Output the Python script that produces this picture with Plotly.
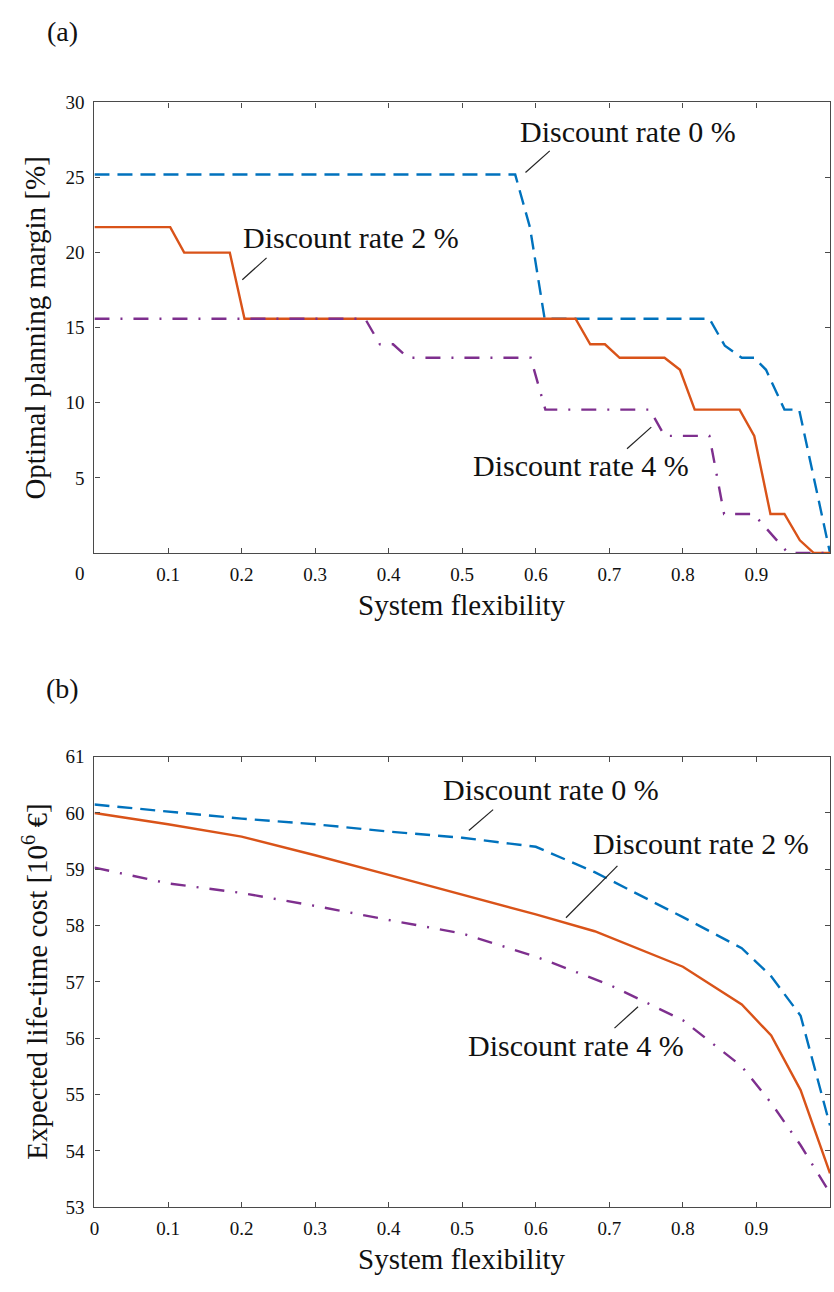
import plotly.graph_objects as go

# ---------------- data: panel (a) optimal planning margin ----------------
A_X_0 = [0, 0.572, 0.592, 0.612, 0.836, 0.857, 0.88, 0.897, 0.913, 0.938, 0.958, 1.0]
A_Y_0 = [25.2, 25.2, 21.7, 15.6, 15.6, 13.8, 13.0, 13.0, 12.2, 9.55, 9.55, 0]

A_X_2 = [0, 0.103, 0.122, 0.184, 0.204, 0.654, 0.674, 0.694, 0.714, 0.775, 0.796,
         0.816, 0.877, 0.897, 0.919, 0.938, 0.959, 0.978, 1.0]
A_Y_2 = [21.7, 21.7, 20.0, 20.0, 15.6, 15.6, 13.9, 13.9, 13.0, 13.0, 12.2,
         9.55, 9.55, 7.8, 2.6, 2.6, 0.85, 0, 0]

A_X_4 = [0, 0.368, 0.388, 0.406, 0.426, 0.593, 0.613, 0.755, 0.775, 0.836, 0.856,
         0.896, 0.943, 1.0]
A_Y_4 = [15.6, 15.6, 13.9, 13.9, 13.0, 13.0, 9.55, 9.55, 7.8, 7.8, 2.6,
         2.6, 0, 0]

# ---------------- data: panel (b) expected life-time cost ----------------
B_X_0 = [0, 0.1, 0.2, 0.3, 0.4, 0.5, 0.6, 0.68, 0.8, 0.88, 0.92, 0.96, 1.0]
B_Y_0 = [60.15, 60.02, 59.9, 59.8, 59.67, 59.56, 59.4, 58.95, 58.15, 57.6, 57.1, 56.4, 54.45]

B_X_2 = [0, 0.1, 0.2, 0.3, 0.4, 0.5, 0.6, 0.68, 0.8, 0.88, 0.92, 0.96, 1.0]
B_Y_2 = [60.0, 59.8, 59.58, 59.25, 58.9, 58.55, 58.2, 57.9, 57.27, 56.6, 56.05, 55.08, 53.6]

B_X_4 = [0, 0.1, 0.2, 0.3, 0.4, 0.5, 0.6, 0.7, 0.8, 0.88, 0.92, 0.96, 1.0]
B_Y_4 = [59.03, 58.75, 58.58, 58.35, 58.1, 57.86, 57.45, 56.95, 56.32, 55.5, 54.85, 54.1, 53.25]

SERIES_NAMES = ["Discount rate 0 %", "Discount rate 2 %", "Discount rate 4 %"]

X_TICKS = [0, 0.1, 0.2, 0.3, 0.4, 0.5, 0.6, 0.7, 0.8, 0.9, 1]
X_TICK_LABELS = ["0", "0.1", "0.2", "0.3", "0.4", "0.5", "0.6", "0.7", "0.8", "0.9", "1"]
A_Y_TICKS = [5, 10, 15, 20, 25, 30]
B_Y_TICKS = [53, 54, 55, 56, 57, 58, 59, 60, 61]

# label positions (data coords) and leader lines
A_LABEL_POS = [(0.726, 28.1), (0.349, 21.0), (0.662, 5.85)]
A_LEADERS = [((0.619, 26.78), (0.586, 25.34)),
             ((0.234, 19.65), (0.201, 18.2)),
             ((0.757, 8.38), (0.724, 6.94))]
B_LABEL_POS = [(0.621, 60.42), (0.825, 59.45), (0.655, 55.88)]
B_LEADERS = [((0.542, 60.06), (0.509, 59.69)),
             ((0.711, 59.06), (0.641, 58.14)),
             ((0.739, 56.56), (0.707, 56.18))]

# ---------------- styling ----------------
W, H = 834, 1292
FONT = "Liberation Serif, Times New Roman, serif"
COLORS = ["#0072BD", "#D95319", "#7E2F8E"]
DASHES = ["15px,8px", "solid", "15px,11px,2px,11px"]
AXCOL = "#4a4a4a"
TXT = "#111111"

x_dom = [90 / W, 830 / W]
ya_dom = [1 - 552 / H, 1 - 94 / H]
yb_dom = [1 - 1217 / H, 1 - 759 / H]

fig = go.Figure()

panel_a = [(A_X_0, A_Y_0), (A_X_2, A_Y_2), (A_X_4, A_Y_4)]
panel_b = [(B_X_0, B_Y_0), (B_X_2, B_Y_2), (B_X_4, B_Y_4)]

for i, (xs, ys) in enumerate(panel_a):
    fig.add_trace(go.Scatter(x=xs, y=ys, mode="lines", name=SERIES_NAMES[i],
                             line=dict(color=COLORS[i], width=2.4, dash=DASHES[i]),
                             xaxis="x", yaxis="y", showlegend=False))
for i, (xs, ys) in enumerate(panel_b):
    fig.add_trace(go.Scatter(x=xs, y=ys, mode="lines", name=SERIES_NAMES[i],
                             line=dict(color=COLORS[i], width=2.4, dash=DASHES[i]),
                             xaxis="x2", yaxis="y2", showlegend=False))

axis_common = dict(showgrid=False, zeroline=False, showline=True, linecolor=AXCOL,
                   linewidth=1.3, mirror="allticks", ticks="inside", ticklen=5,
                   tickwidth=1.2, tickcolor=AXCOL,
                   tickfont=dict(family=FONT, size=19, color=TXT))

fig.update_layout(
    width=W, height=H,
    margin=dict(l=0, r=0, t=0, b=0),
    paper_bgcolor="white", plot_bgcolor="white",
    xaxis=dict(domain=x_dom, anchor="y", range=[0, 1], tickvals=X_TICKS[1:],
               ticktext=X_TICK_LABELS[1:], ticklabelstandoff=4, **axis_common),
    yaxis=dict(domain=ya_dom, anchor="x", range=[0, 30], tickvals=A_Y_TICKS,
               ticktext=[str(v) for v in A_Y_TICKS], ticklabelstandoff=5, **axis_common),
    xaxis2=dict(domain=x_dom, anchor="y2", range=[0, 1], tickvals=X_TICKS,
                ticktext=X_TICK_LABELS, ticklabelstandoff=4, **axis_common),
    yaxis2=dict(domain=yb_dom, anchor="x2", range=[53, 61], tickvals=B_Y_TICKS,
                ticktext=[str(v) for v in B_Y_TICKS], ticklabelstandoff=5, **axis_common),
)

annotations = []
shapes = []


def txt(x, y, text, size, xref="paper", yref="paper", angle=0):
    return dict(x=x, y=y, xref=xref, yref=yref, text=text, showarrow=False,
                xanchor="center", yanchor="middle", textangle=angle,
                font=dict(family=FONT, size=size, color=TXT))


for (pos, name, lead) in zip(A_LABEL_POS, SERIES_NAMES, A_LEADERS):
    annotations.append(txt(pos[0], pos[1], name, 30, "x", "y"))
    shapes.append(dict(type="line", xref="x", yref="y", x0=lead[0][0], y0=lead[0][1],
                       x1=lead[1][0], y1=lead[1][1], line=dict(color="#222222", width=1.2)))
for (pos, name, lead) in zip(B_LABEL_POS, SERIES_NAMES, B_LEADERS):
    annotations.append(txt(pos[0], pos[1], name, 30, "x2", "y2"))
    shapes.append(dict(type="line", xref="x2", yref="y2", x0=lead[0][0], y0=lead[0][1],
                       x1=lead[1][0], y1=lead[1][1], line=dict(color="#222222", width=1.2)))

# panel (a) "0" tick label drawn offset to the left as in the original
annotations.append(txt(75 / W, 1 - 573 / H, X_TICK_LABELS[0], 19))

# panel letters
annotations.append(txt(58 / W, 1 - 22 / H, "(a)", 28))
annotations.append(txt(58 / W, 1 - 690 / H, "(b)", 28))

# axis titles
annotations.append(txt(460 / W, 1 - 605 / H, "System flexibility", 29))
annotations.append(txt(460 / W, 1 - 1270 / H, "System flexibility", 29))
annotations.append(txt(30 / W, 1 - 323 / H, "Optimal planning margin [%]", 29, angle=-90))
annotations.append(txt(30 / W, 1 - 988 / H, "Expected life-time cost [10<sup>6</sup> €]", 29,
                       angle=-90))

fig.update_layout(annotations=annotations, shapes=shapes)

fig.write_html("out.html")
